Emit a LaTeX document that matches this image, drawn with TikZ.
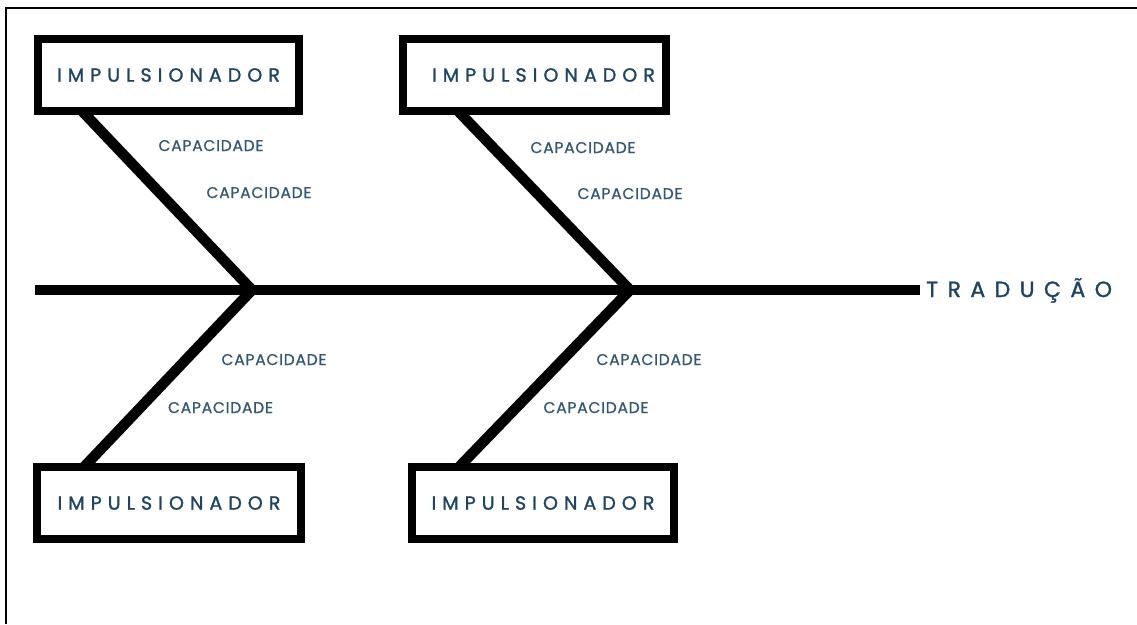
\documentclass[tikz,border=0pt]{standalone}
\usepackage{fontspec}
\setmainfont{Poppins}
\newfontfamily\boxfont[LetterSpace=32,FakeBold=1.3]{Poppins}
\newfontfamily\capfont[LetterSpace=5,FakeBold=0.8]{Poppins}
\newfontfamily\headfont[LetterSpace=43,FakeBold=1.3]{Poppins}
\definecolor{ink}{RGB}{28,68,100}
\definecolor{capink}{RGB}{50,86,120}
\begin{document}
\begin{tikzpicture}[x=1pt,y=-1pt,
  bone/.style={line width=10.5pt, line join=miter},
  impbox/.style={draw, line width=8pt, minimum height=72pt, inner sep=0pt, outer sep=0pt,
    text=ink, font=\boxfont\fontsize{19}{19}\selectfont},
  captext/.style={text=capink, font=\capfont\fontsize{15.5}{15.5}\selectfont, inner sep=0pt, anchor=base},
  headtext/.style={text=ink, font=\headfont\fontsize{22}{22}\selectfont, inner ysep=0pt, inner xsep=6pt, anchor=base west}
]
\useasboundingbox (0,0) rectangle (1137,624);
\coordinate (fa) at (6,624);
\coordinate (fb) at (6,8);
\coordinate (fc) at (1137,8);
\draw[line width=1.5pt] (fa) -- (fb) -- (fc);

\node[impbox, minimum width=261pt] (tl) at (168.5,75) {IMPULSIONADOR};
\node[impbox, minimum width=263pt] (tr) at (534.5,75) {\hspace*{18pt}IMPULSIONADOR};
\node[impbox, minimum width=264pt] (bl) at (169,503) {IMPULSIONADOR};
\node[impbox, minimum width=262pt] (br) at (543,503) {IMPULSIONADOR};

\coordinate (s0) at (35,290);
\coordinate (j1) at (252,290);
\coordinate (j2) at (630,290);
\node[headtext] (trad) at (920,297) {TRADUÇÃO};

\draw[bone] (s0) -- (s0 -| trad.west);
\draw[bone] ([xshift=44pt]tl.south west) -- (j1) -- ([xshift=47pt]bl.north west);
\draw[bone] ([xshift=55pt]tr.south west) -- (j2) -- ([xshift=47pt]br.north west);

\node[captext] (c1) at (211,151) {CAPACIDADE};
\node[captext] (c2) at (259,198) {CAPACIDADE};
\node[captext] (c3) at (583,153) {CAPACIDADE};
\node[captext] (c4) at (630,199) {CAPACIDADE};
\node[captext] (c5) at (274,365) {CAPACIDADE};
\node[captext] (c6) at (220.5,413) {CAPACIDADE};
\node[captext] (c7) at (649,365) {CAPACIDADE};
\node[captext] (c8) at (596,413) {CAPACIDADE};
\end{tikzpicture}
\end{document}
